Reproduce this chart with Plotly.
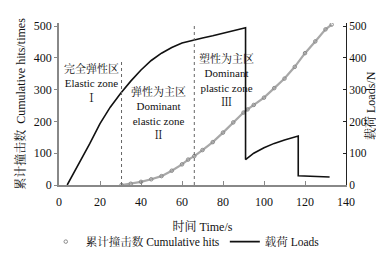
import plotly.graph_objects as go

# Cumulative hits (left axis)
hits_time = [30.5, 35, 40, 45, 50, 55, 60, 63, 66, 70, 75, 80, 85, 90, 92, 95,
             100, 105, 110, 115, 120, 125, 130, 133]
hits_val = [0, 4, 10, 18, 28, 45, 65, 80, 91, 110, 135, 165, 197, 228, 238, 252,
            275, 305, 335, 372, 415, 452, 490, 505]

# Load (right axis)
load_time = [4, 10, 15, 20, 25, 30, 35, 40, 45, 50, 55, 60, 65, 70, 75, 80, 85, 91,
             91, 95, 100, 105, 110, 115, 116.7, 116.7, 120, 125, 132]
load_val = [0, 70, 130, 193, 245, 288, 327, 362, 392, 415, 433, 447, 456, 463, 470, 478, 485, 495,
            80, 100, 117, 131, 142, 151, 154, 29, 28, 27, 25]

zone_bounds = [30.5, 66]
x_ticks = [0, 20, 40, 60, 80, 100, 120, 140]
y_ticks = [0, 100, 200, 300, 400, 500]

FONT = "'Times New Roman', 'Liberation Serif', 'Noto Serif CJK SC', 'Noto Sans CJK SC', serif"

fig = go.Figure()
fig.add_trace(go.Scatter(x=hits_time, y=hits_val, mode="lines",
                         line=dict(color="#a8a8a8", width=2.2),
                         showlegend=False, hoverinfo="skip"))
fig.add_trace(go.Scatter(x=hits_time, y=hits_val, mode="markers",
                         marker=dict(symbol="circle-open", size=3.5, color="#8a8a8a", line=dict(width=1)),
                         name="累计撞击数 Cumulative hits"))
fig.add_trace(go.Scatter(x=load_time, y=load_val, mode="lines", yaxis="y2",
                         line=dict(color="#111111", width=1.6),
                         name="载荷 Loads"))

# zone boundary lines
fig.add_shape(type="line", x0=zone_bounds[0], x1=zone_bounds[0], y0=0, y1=395,
              line=dict(color="#666", width=1, dash="dot"))
fig.add_shape(type="line", x0=zone_bounds[1], x1=zone_bounds[1], y0=0, y1=510,
              line=dict(color="#666", width=1, dash="dot"))

def px_to_val(py):
    return (191 - py) / 0.352

zones = [
    (16, 78, "完全弹性区<br>Elastic zone<br>Ⅰ"),
    (48.6, 111, "弹性为主区<br>Dominant<br>elastic zone<br>Ⅱ"),
    (81.7, 75, "塑性为主区<br>Dominant<br>plastic zone<br>Ⅲ"),
]
for x, py, t in zones:
    fig.add_annotation(x=x, y=px_to_val(py), text=t, showarrow=False,
                       font=dict(size=11, color="#111", family=FONT),
                       borderpad=0, bgcolor="rgba(255,255,255,0)")

# right axis title placed as annotation so it stays inside the canvas
fig.add_annotation(xref="paper", yref="paper", x=(372 - 50) / 288, y=(191 - 103) / 179.5,
                   text="载荷 Loads/N", textangle=-90, showarrow=False,
                   font=dict(size=12, color="#111", family=FONT))

fig.update_layout(
    width=384, height=259,
    margin=dict(l=50, r=46, t=11.5, b=68),
    paper_bgcolor="white", plot_bgcolor="white",
    font=dict(family=FONT, size=12, color="#111"),
    xaxis=dict(range=[0, 140], tickvals=x_ticks, showgrid=False, zeroline=False,
               showline=True, linecolor="#888", linewidth=1.5,
               ticks="inside", ticklen=4, tickcolor="#888", ticklabelstandoff=5,
               title=dict(text="时间 Time/s", font=dict(size=12), standoff=14)),
    yaxis=dict(range=[0, 510], tickvals=y_ticks, showgrid=False, zeroline=False,
               showline=True, linecolor="#888", linewidth=1.5,
               ticks="outside", ticklen=3, tickcolor="#888",
               title=dict(text="累计撞击数  Cumulative hits/times", font=dict(size=12), standoff=6)),
    yaxis2=dict(range=[0, 510], tickvals=y_ticks, overlaying="y", side="right",
                showgrid=False, zeroline=False, showline=True, linecolor="#222", linewidth=1,
                ticks="inside", ticklen=3, tickcolor="#222", tickfont=dict(size=11.5)),
    legend=dict(orientation="h", x=0.44, xanchor="center", y=-0.26, yanchor="top",
                font=dict(size=11.5), bgcolor="rgba(0,0,0,0)", itemwidth=30, tracegroupgap=0),
)

fig.write_html("out.html")
